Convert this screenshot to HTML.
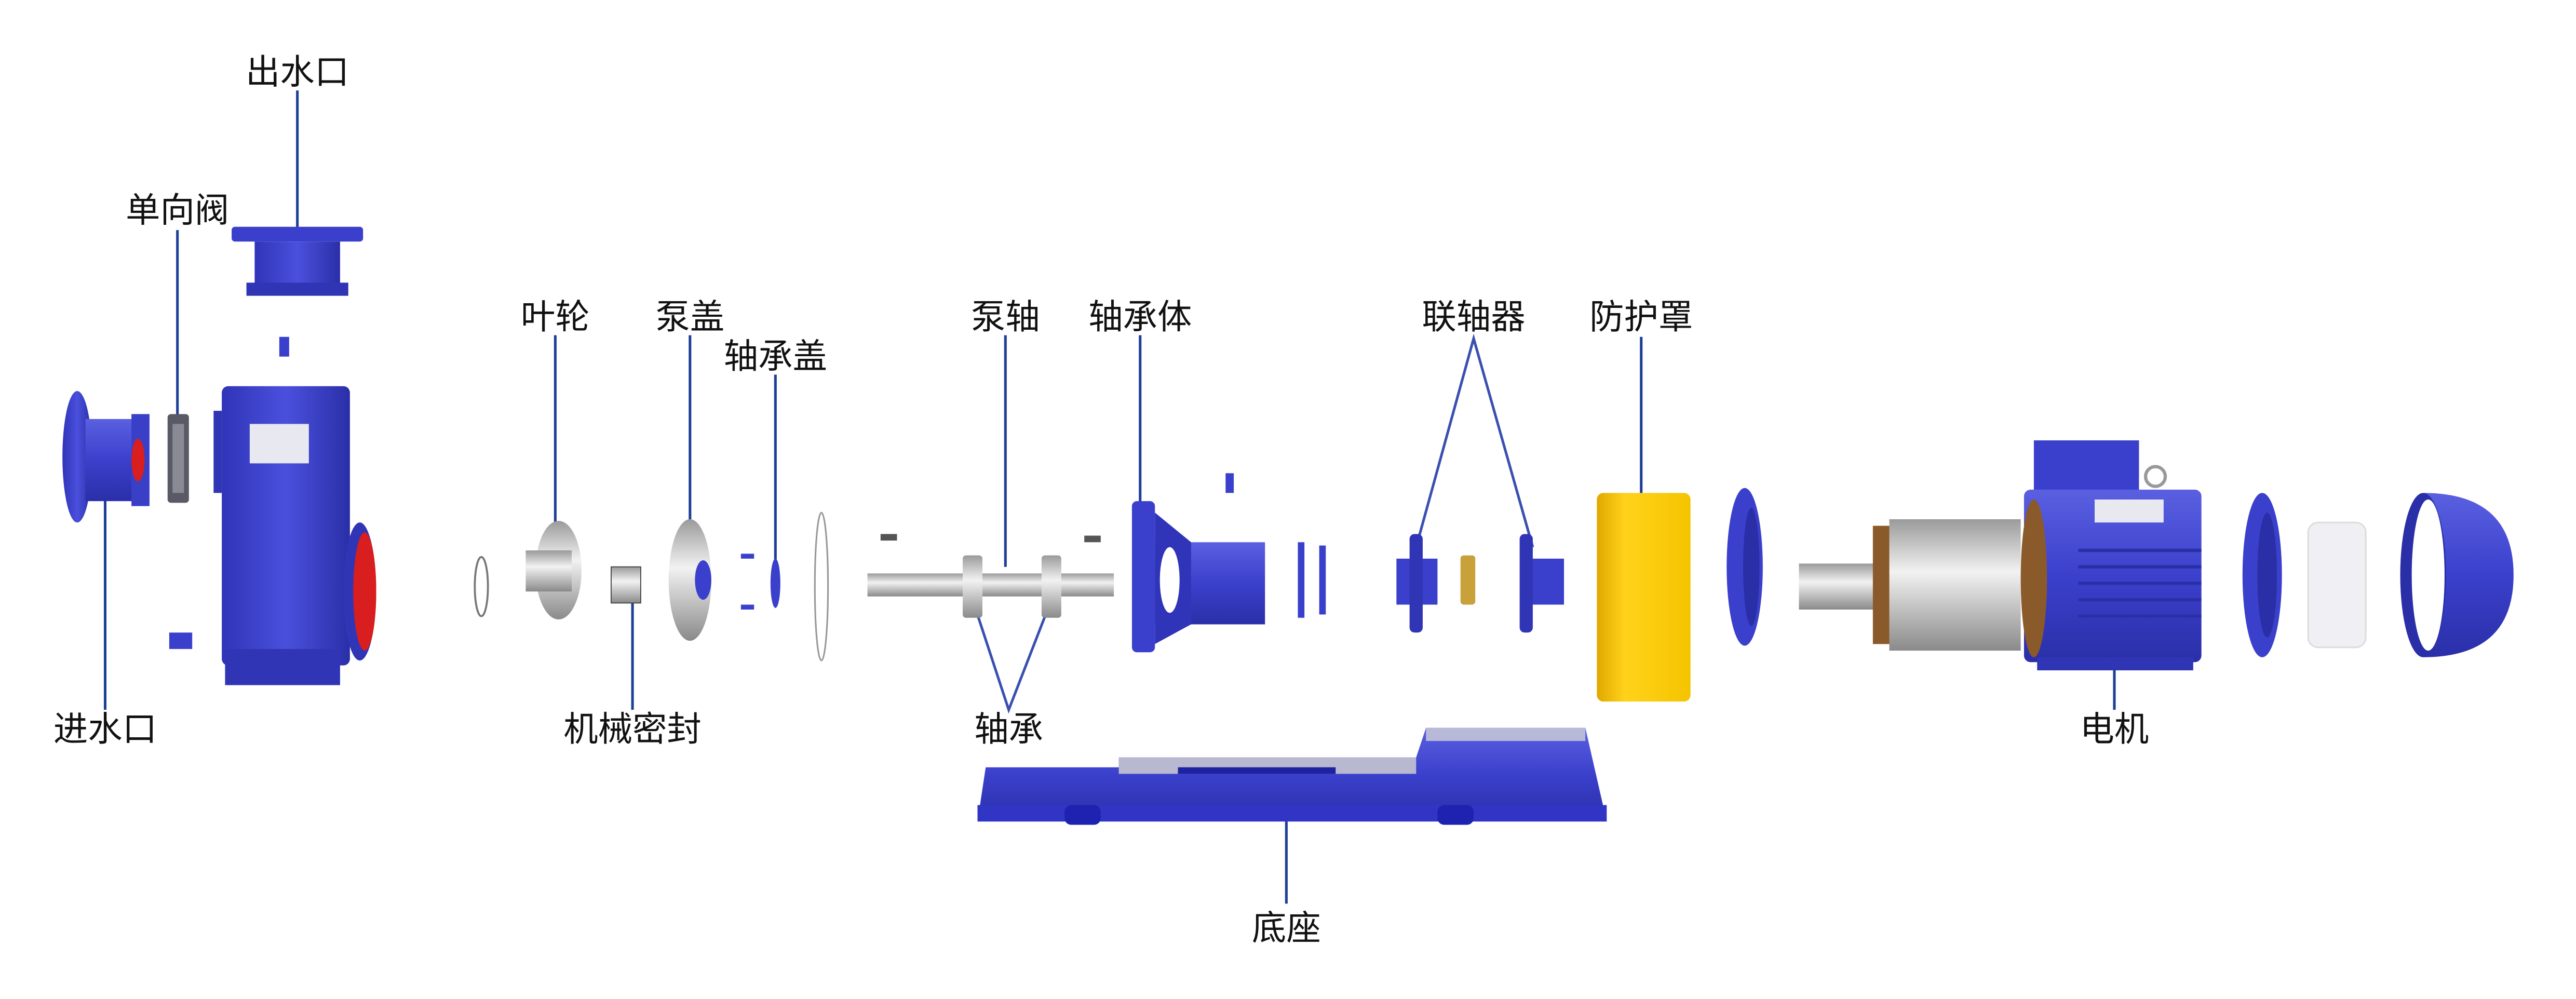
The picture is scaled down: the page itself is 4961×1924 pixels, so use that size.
<!DOCTYPE html>
<html><head><meta charset="utf-8"><style>
html,body{margin:0;padding:0;background:#fff;}
svg{display:block}
text{font-family:"Liberation Sans","Noto Sans CJK SC",sans-serif;font-size:21px;fill:#111;text-anchor:middle}
</style></head><body>
<svg width="4961" height="1924" viewBox="0 0 1568 608" xmlns="http://www.w3.org/2000/svg">
<defs>
<linearGradient id="bl" x1="0" y1="0" x2="1" y2="0"><stop offset="0" stop-color="#2f34b8"/><stop offset="0.5" stop-color="#4a50dc"/><stop offset="1" stop-color="#2a2fa8"/></linearGradient>
<linearGradient id="bv" x1="0" y1="0" x2="0" y2="1"><stop offset="0" stop-color="#5a60e0"/><stop offset="0.5" stop-color="#3b40cc"/><stop offset="1" stop-color="#2a2fa8"/></linearGradient>
<linearGradient id="si" x1="0" y1="0" x2="0" y2="1"><stop offset="0" stop-color="#9a9a9a"/><stop offset="0.4" stop-color="#f2f2f2"/><stop offset="1" stop-color="#8a8a8a"/></linearGradient>
<linearGradient id="sh" x1="0" y1="0" x2="1" y2="0"><stop offset="0" stop-color="#888"/><stop offset="0.5" stop-color="#eee"/><stop offset="1" stop-color="#999"/></linearGradient>
<linearGradient id="ye" x1="0" y1="0" x2="1" y2="0"><stop offset="0" stop-color="#e0a800"/><stop offset="0.3" stop-color="#ffd21a"/><stop offset="1" stop-color="#f5c400"/></linearGradient>
</defs>
<rect width="1568" height="608" fill="#fff"/>

<!-- connector lines -->
<g stroke="#1d3f95" stroke-width="1.6" fill="none">
<line x1="181" y1="55" x2="181" y2="140"/>
<line x1="108" y1="140" x2="108" y2="255"/>
<line x1="64" y1="300" x2="64" y2="432"/>
<line x1="338" y1="204" x2="338" y2="318"/>
<line x1="420" y1="204" x2="420" y2="320"/>
<line x1="472" y1="228" x2="472" y2="345"/>
<line x1="612" y1="204" x2="612" y2="345"/>
<line x1="694" y1="204" x2="694" y2="312"/>
<polyline points="862,333 897,206 933,333" stroke="#3a50b0"/>
<line x1="999" y1="205" x2="999" y2="300"/>
<polyline points="592,365 614,432 640,365" stroke="#3a50b0"/>
<line x1="385" y1="350" x2="385" y2="432"/>
<line x1="1287" y1="405" x2="1287" y2="432"/>
<line x1="783" y1="500" x2="783" y2="550"/>
</g>

<!-- inlet -->
<ellipse cx="47" cy="278" rx="9" ry="40" fill="url(#bl)"/>
<rect x="52" y="255" width="30" height="50" fill="url(#bv)"/>
<rect x="80" y="252" width="11" height="56" fill="#3a3fc8"/>
<ellipse cx="84" cy="280" rx="4" ry="13" fill="#d81e1e"/>
<!-- check valve -->
<rect x="102" y="252" width="13" height="54" rx="2" fill="#5a5a66"/>
<rect x="105" y="258" width="7" height="42" fill="#8a8a95"/>
<!-- outlet -->
<rect x="141" y="138" width="80" height="9" rx="2" fill="#3b40cc"/>
<rect x="155" y="147" width="52" height="27" fill="url(#bl)"/>
<rect x="150" y="172" width="62" height="8" fill="#3035b5"/>
<rect x="170" y="205" width="6" height="12" fill="#3b40cc"/>
<!-- pump body -->
<rect x="130" y="250" width="5" height="50" fill="#3035b5"/>
<rect x="135" y="235" width="78" height="170" rx="4" fill="url(#bl)"/>
<rect x="137" y="395" width="70" height="22" fill="#3035b5"/>
<rect x="152" y="258" width="36" height="24" fill="#e8e8f0"/>
<ellipse cx="219" cy="360" rx="10" ry="42" fill="#3035b5"/>
<ellipse cx="222" cy="360" rx="7" ry="36" fill="#d81e1e"/>
<rect x="103" y="385" width="14" height="10" fill="#3b40cc"/>
<ellipse cx="293" cy="357" rx="4" ry="18" fill="none" stroke="#777" stroke-width="1.2"/>
<!-- impeller -->
<ellipse cx="340" cy="347" rx="14" ry="30" fill="url(#si)"/>
<rect x="320" y="335" width="28" height="25" fill="url(#si)"/>
<!-- mech seal -->
<rect x="372" y="345" width="18" height="22" fill="url(#si)" stroke="#444" stroke-width="0.6"/>
<!-- pump cover -->
<ellipse cx="420" cy="353" rx="13" ry="37" fill="url(#si)"/>
<ellipse cx="428" cy="353" rx="5" ry="12" fill="#3b40cc"/>
<!-- bearing cover -->
<g fill="#3b40cc"><rect x="451" y="337" width="8" height="3"/><rect x="451" y="368" width="8" height="3"/></g>
<ellipse cx="472" cy="355" rx="3" ry="15" fill="#3b40cc"/>
<ellipse cx="500" cy="357" rx="4" ry="45" fill="none" stroke="#999" stroke-width="1"/>
<!-- shaft -->
<rect x="528" y="349" width="150" height="14" fill="url(#si)"/>
<rect x="586" y="338" width="12" height="38" rx="2" fill="url(#si)"/>
<rect x="634" y="338" width="12" height="38" rx="2" fill="url(#si)"/>
<rect x="536" y="325" width="10" height="4" fill="#555"/><rect x="660" y="326" width="10" height="4" fill="#555"/>
<!-- bearing housing -->
<rect x="746" y="288" width="5" height="12" fill="#3b40cc"/>
<rect x="689" y="305" width="14" height="92" rx="3" fill="#3b40cc"/>
<rect x="703" y="330" width="67" height="50" fill="url(#bv)"/>
<path d="M703 312 L725 330 L725 380 L703 392Z" fill="#2f34b8"/>
<ellipse cx="712" cy="353" rx="6" ry="20" fill="#fff"/>
<!-- coupling -->
<rect x="790" y="330" width="4" height="46" fill="#3b40cc"/><rect x="803" y="332" width="4" height="42" fill="#3b40cc"/>
<rect x="850" y="340" width="25" height="28" fill="#3b40cc"/><rect x="858" y="325" width="8" height="60" rx="3" fill="#3035b5"/>
<rect x="889" y="338" width="9" height="30" rx="2" fill="#c9a13a"/>
<rect x="928" y="340" width="24" height="28" fill="#3b40cc"/><rect x="925" y="325" width="8" height="60" rx="3" fill="#3035b5"/>
<!-- guard -->
<rect x="972" y="300" width="57" height="127" rx="4" fill="url(#ye)"/>
<!-- motor end shield -->
<ellipse cx="1062" cy="345" rx="11" ry="48" fill="#3b40cc"/>
<ellipse cx="1066" cy="345" rx="5" ry="36" fill="#2a2fa8"/>
<!-- rotor -->
<rect x="1095" y="343" width="60" height="28" fill="url(#si)"/>
<rect x="1140" y="320" width="12" height="72" fill="#8a5a2a"/>
<rect x="1150" y="316" width="80" height="80" fill="url(#si)"/>
<!-- motor -->
<rect x="1238" y="268" width="64" height="36" fill="#3b40cc"/>
<rect x="1232" y="298" width="108" height="105" rx="4" fill="url(#bv)"/>
<g stroke="#2a2fa8" stroke-width="2"><line x1="1265" y1="335" x2="1340" y2="335"/><line x1="1265" y1="345" x2="1340" y2="345"/><line x1="1265" y1="355" x2="1340" y2="355"/><line x1="1265" y1="365" x2="1340" y2="365"/><line x1="1265" y1="375" x2="1340" y2="375"/></g>
<rect x="1275" y="304" width="42" height="14" fill="#e8e8f0"/>
<rect x="1240" y="400" width="95" height="8" fill="#3035b5"/>
<ellipse cx="1238" cy="352" rx="8" ry="48" fill="#8a5a2a"/>
<circle cx="1312" cy="290" r="6" fill="none" stroke="#999" stroke-width="2"/>
<!-- end shield 2 -->
<ellipse cx="1377" cy="350" rx="12" ry="50" fill="#3b40cc"/>
<ellipse cx="1380" cy="350" rx="6" ry="38" fill="#2a2fa8"/>
<!-- fan -->
<rect x="1405" y="318" width="35" height="76" rx="6" fill="#f0f0f4" stroke="#ddd"/>
<!-- fan cover -->
<path d="M1475 300 Q1530 300 1530 350 Q1530 400 1475 400 Z" fill="url(#bv)"/>
<ellipse cx="1475" cy="350" rx="14" ry="50" fill="#2a2fa8"/>
<ellipse cx="1478" cy="350" rx="10" ry="46" fill="#fff"/>
<!-- base -->
<path d="M600 467 L681 467 L681 461 L862 461 L868 443 L965 443 L978 500 L595 500 Z" fill="url(#bv)"/>
<rect x="681" y="461" width="181" height="10" fill="#b8b8d0"/>
<rect x="717" y="467" width="96" height="4" fill="#1e22a0"/>
<rect x="868" y="443" width="97" height="8" fill="#b8b8d8"/>
<rect x="595" y="490" width="383" height="10" fill="#3035c5"/>
<rect x="648" y="490" width="22" height="12" rx="4" fill="#1e22b0"/><rect x="875" y="490" width="22" height="12" rx="4" fill="#1e22b0"/>

<!-- labels -->
<text x="181" y="51">出水口</text>
<text x="108" y="135">单向阀</text>
<text x="64" y="451">进水口</text>
<text x="338" y="200">叶轮</text>
<text x="420" y="200">泵盖</text>
<text x="472" y="224">轴承盖</text>
<text x="612" y="200">泵轴</text>
<text x="694" y="200">轴承体</text>
<text x="897" y="200">联轴器</text>
<text x="999" y="200">防护罩</text>
<text x="385" y="451">机械密封</text>
<text x="614" y="451">轴承</text>
<text x="1287" y="451">电机</text>
<text x="783" y="572">底座</text>
</svg>
</body></html>
